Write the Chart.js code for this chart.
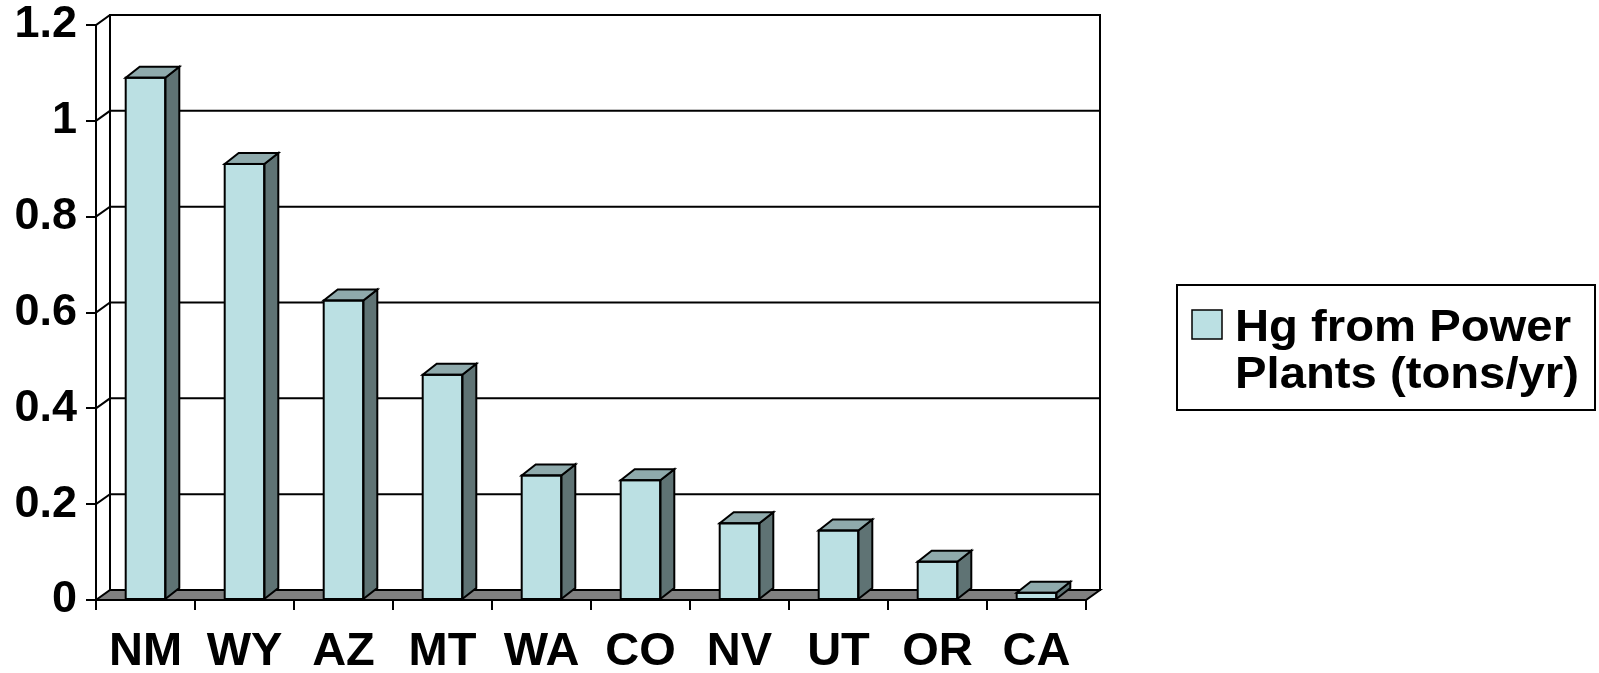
<!DOCTYPE html>
<html>
<head>
<meta charset="utf-8">
<script src="https://cdn.jsdelivr.net/npm/chart.js@4"></script>
<style>
  html, body { margin: 0; padding: 0; background: #fff; overflow: hidden; }
  canvas { display: block; }
</style>
</head>
<body>
<canvas id="c" width="1599" height="673"></canvas>
<script>
// Mercury emissions from power plants by western state
const states = ['NM', 'WY', 'AZ', 'MT', 'WA', 'CO', 'NV', 'UT', 'OR', 'CA'];
const hgTons = [1.09, 0.91, 0.625, 0.47, 0.26, 0.25, 0.16, 0.145, 0.08, 0.015];
const yTicks = [0, 0.2, 0.4, 0.6, 0.8, 1, 1.2];
const seriesLines = ['Hg from Power', 'Plants (tons/yr)'];

const FRONT = '#BBE0E3';
const SIDE = '#5F7374';
const TOP = '#8FAAAC';
const FLOOR = '#808080';
const DEPTH_X = 14;   // horizontal depth offset of the 3D box
const WALL_DY = 10;   // vertical depth offset of walls and floor
const BAR_DY = 11;    // vertical depth offset of the columns
const FONT = '"Liberation Sans", Arial, Helvetica, sans-serif';

// Back wall, side-wall gridlines and grey floor behind the columns,
// then the side and top faces of every column.
const box3d = {
  id: 'box3d',
  beforeDatasetsDraw(chart) {
    const { ctx, chartArea: a, scales: { y } } = chart;
    const bx0 = a.left + DEPTH_X, bx1 = a.right + DEPTH_X;
    const wallTop = y.getPixelForValue(yTicks[yTicks.length - 1]) - WALL_DY;
    const floorBack = a.bottom - WALL_DY;
    ctx.save();
    ctx.lineWidth = 2;
    ctx.strokeStyle = '#000';
    ctx.lineCap = 'square';
    yTicks.forEach(v => {
      if (v === 0) return;
      const fy = y.getPixelForValue(v);
      const by = fy - WALL_DY;
      ctx.beginPath();
      ctx.moveTo(a.left, fy);
      ctx.lineTo(bx0, by);
      ctx.lineTo(bx1, by);
      ctx.stroke();
    });
    ctx.beginPath();
    ctx.moveTo(bx0, wallTop); ctx.lineTo(bx0, floorBack);
    ctx.moveTo(bx1, wallTop); ctx.lineTo(bx1, floorBack);
    ctx.stroke();
    ctx.beginPath();
    ctx.moveTo(a.left, a.bottom);
    ctx.lineTo(a.right, a.bottom);
    ctx.lineTo(bx1, floorBack);
    ctx.lineTo(bx0, floorBack);
    ctx.closePath();
    ctx.fillStyle = FLOOR;
    ctx.fill();
    ctx.stroke();
    ctx.restore();
  },
  afterDatasetsDraw(chart) {
    const { ctx } = chart;
    const meta = chart.getDatasetMeta(0);
    ctx.save();
    ctx.lineWidth = 2;
    ctx.strokeStyle = '#000';
    ctx.lineJoin = 'miter';
    meta.data.forEach(bar => {
      const { x, y, base, width } = bar.getProps(['x', 'y', 'base', 'width'], true);
      const l = x - width / 2, r = x + width / 2;
      ctx.beginPath();
      ctx.moveTo(r, base);
      ctx.lineTo(r + DEPTH_X, base - BAR_DY);
      ctx.lineTo(r + DEPTH_X, y - BAR_DY);
      ctx.lineTo(r, y);
      ctx.closePath();
      ctx.fillStyle = SIDE;
      ctx.fill();
      ctx.stroke();
      ctx.beginPath();
      ctx.moveTo(l, y);
      ctx.lineTo(l + DEPTH_X, y - BAR_DY);
      ctx.lineTo(r + DEPTH_X, y - BAR_DY);
      ctx.lineTo(r, y);
      ctx.closePath();
      ctx.fillStyle = TOP;
      ctx.fill();
      ctx.stroke();
      ctx.strokeRect(l, y, width, base - y);
    });
    ctx.restore();
  }
};

// Boxed legend on the right with a two-line series name
const boxLegend = {
  id: 'boxLegend',
  afterDraw(chart) {
    const { ctx } = chart;
    ctx.save();
    ctx.lineWidth = 2;
    ctx.strokeStyle = '#000';
    ctx.strokeRect(1177, 285, 418, 125);
    ctx.fillStyle = FRONT;
    ctx.fillRect(1192, 310, 30, 29);
    ctx.lineWidth = 1.5;
    ctx.strokeRect(1192, 310, 30, 29);
    ctx.fillStyle = '#000';
    ctx.font = 'bold 45px ' + FONT;
    ctx.textBaseline = 'alphabetic';
    ctx.textAlign = 'left';
    seriesLines.forEach((line, i) => {
      ctx.save();
      ctx.translate(1235, 341 + i * 47);
      ctx.scale(1.05, 1);
      ctx.fillText(line, 0, 0);
      ctx.restore();
    });
    ctx.restore();
  }
};

new Chart(document.getElementById('c'), {
  type: 'bar',
  data: {
    labels: states,
    datasets: [{
      label: seriesLines.join(' '),
      data: hgTons,
      backgroundColor: FRONT,
      borderColor: '#000',
      borderWidth: 0,
      categoryPercentage: 1,
      barPercentage: 0.4
    }]
  },
  options: {
    responsive: false,
    devicePixelRatio: 1,
    animation: false,
    layout: { padding: { top: 25, right: 513, left: 0, bottom: 0 } },
    plugins: { legend: { display: false }, tooltip: { enabled: false } },
    scales: {
      x: {
        grid: { display: true, drawOnChartArea: false, drawTicks: true, tickLength: 10, offset: true, color: '#000', lineWidth: 2 },
        border: { display: true, color: '#000', width: 2 },
        ticks: { color: '#000', font: { family: FONT, size: 47, weight: 'bold', lineHeight: 1.2 }, padding: 14, maxRotation: 0, autoSkip: false },
        afterFit(s) { s.height = 73; }
      },
      y: {
        min: 0,
        max: 1.2,
        afterBuildTicks(s) { s.ticks = yTicks.map(v => ({ value: v })); },
        grid: { display: true, drawOnChartArea: false, drawTicks: true, tickLength: 10, color: '#000', lineWidth: 2 },
        border: { display: true, color: '#000', width: 2 },
        ticks: { color: '#000', font: { family: FONT, size: 45, weight: 'bold', lineHeight: 0.5 }, padding: 9, callback: v => String(v) },
        afterFit(s) { s.width = 96; }
      }
    }
  },
  plugins: [box3d, boxLegend]
});
</script>
</body>
</html>
